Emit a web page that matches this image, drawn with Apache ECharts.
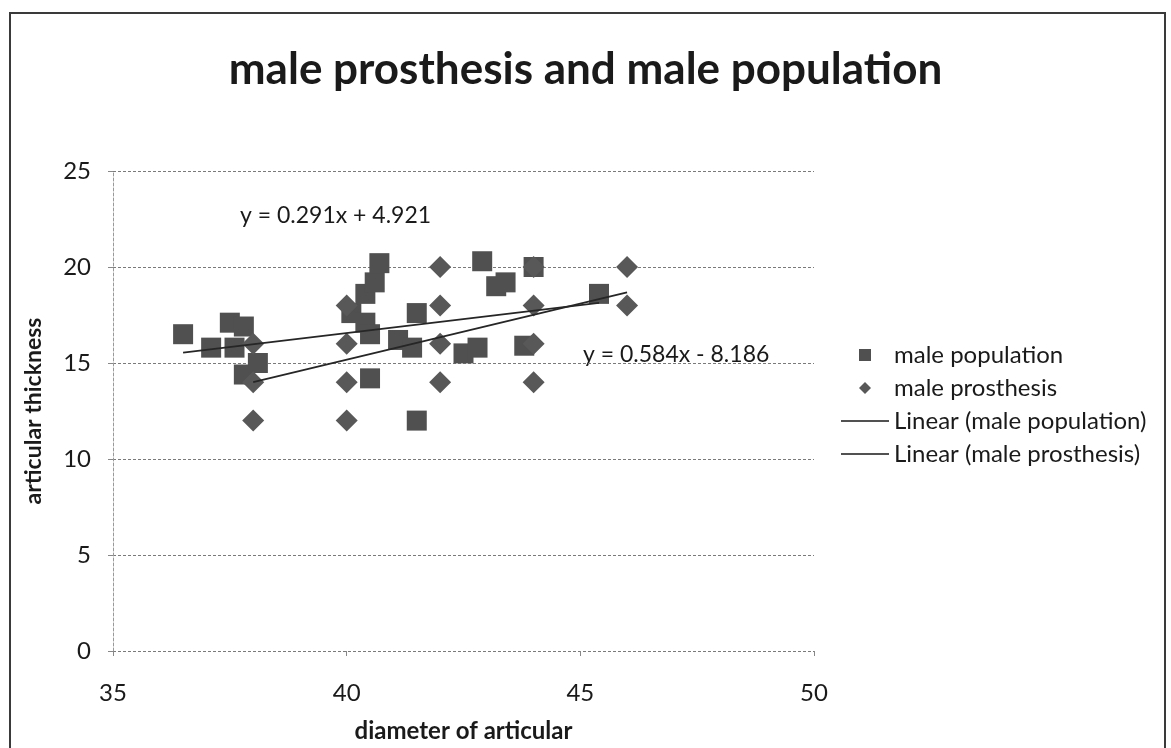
<!DOCTYPE html>
<html>
<head>
<meta charset="utf-8">
<script src="https://cdn.jsdelivr.net/npm/echarts@6/dist/echarts.min.js"></script>
<style>
html,body{margin:0;padding:0;background:#fff;}
#chart{width:1171px;height:748px;}
</style>
</head>
<body>
<div id="chart"></div>
<script>
// ---- data ----
const titleText = 'male prosthesis and male population';
const xAxisName = 'diameter of articular';
const yAxisName = 'articular thickness';
const seriesNames = ['male population', 'male prosthesis', 'Linear (male population)', 'Linear (male prosthesis)'];

const populationX = [36.5, 37.1, 37.5, 37.6, 37.8, 37.8, 38.1, 40.1, 40.4, 40.6, 40.7, 40.4, 40.5, 40.5, 41.1, 41.5, 41.4, 41.5, 42.5, 42.8, 42.9, 43.2, 43.4, 43.8, 44.0, 45.4];
const populationY = [16.5, 15.8, 17.1, 15.8, 16.9, 14.4, 15.0, 17.6, 18.6, 19.2, 20.2, 17.1, 16.5, 14.2, 16.2, 17.6, 15.8, 12.0, 15.5, 15.8, 20.3, 19.0, 19.2, 15.9, 20.0, 18.6];

const prosthesisX = [38, 38, 38, 40, 40, 40, 40, 42, 42, 42, 42, 44, 44, 44, 44, 46, 46];
const prosthesisY = [16, 14, 12, 18, 16, 14, 12, 20, 18, 16, 14, 20, 18, 16, 14, 20, 18];

// trendline coefficients as printed on the chart
const trendPopulation = { slope: 0.291, intercept: 4.921, label: 'y = 0.291x + 4.921' };
const trendProsthesis = { slope: 0.584, intercept: -8.186, label: 'y = 0.584x - 8.186' };

const xTicks = [35, 40, 45, 50];
const yTicks = [0, 5, 10, 15, 20, 25];

// ---- build ----
const zip = (xs, ys) => xs.map((x, i) => [x, ys[i]]);
const trendEnds = (xs, t) => {
  const lo = Math.min(...xs), hi = Math.max(...xs);
  return [[lo, t.slope * lo + t.intercept], [hi, t.slope * hi + t.intercept]];
};

const FONT = 'Lato, "Open Sans", sans-serif';
const LINE_ICON = 'path://M0,0L48,0L48,2L0,2Z';
const TREND_COLOR = '#262626';

function trendSeries(name, ends) {
  return {
    name: name, type: 'scatter', symbol: 'none', symbolSize: 0,
    itemStyle: { color: TREND_COLOR },
    data: ends, z: 4,
    markLine: {
      silent: true, animation: false,
      symbol: ['none', 'none'],
      label: { show: false },
      lineStyle: { color: TREND_COLOR, width: 1.8, type: 'solid' },
      emphasis: { disabled: true },
      data: [[{ coord: ends[0] }, { coord: ends[1] }]]
    }
  };
}

const chart = echarts.init(document.getElementById('chart'), null, { renderer: 'canvas' });

chart.setOption({
  animation: false,
  backgroundColor: '#ffffff',
  textStyle: { fontFamily: FONT, color: '#1a1a1a' },
  title: {
    text: titleText,
    left: 'center',
    top: 43,
    textStyle: { fontFamily: FONT, fontSize: 44, fontWeight: 'bold', color: '#1a1a1a' }
  },
  grid: { left: 113, top: 171, width: 701, height: 496, containLabel: false },
  xAxis: {
    type: 'value',
    min: xTicks[0], max: xTicks[xTicks.length - 1], interval: 5,
    name: xAxisName,
    nameLocation: 'middle',
    nameGap: 68,
    nameTextStyle: { fontFamily: FONT, fontSize: 24, fontWeight: 'bold', color: '#1a1a1a' },
    axisLine: { show: false },
    axisTick: { show: true, length: 5, lineStyle: { color: '#888' } },
    axisLabel: { fontSize: 24, color: '#1a1a1a', margin: 30, fontFamily: FONT },
    splitLine: { show: false }
  },
  yAxis: {
    type: 'value',
    min: yTicks[0], max: yTicks[yTicks.length - 1], interval: 5,
    name: yAxisName,
    nameLocation: 'middle',
    nameGap: 68,
    nameTextStyle: { fontFamily: FONT, fontSize: 23, fontWeight: 'bold', color: '#1a1a1a' },
    axisLine: { show: true, lineStyle: { color: '#999', type: [3, 2] } },
    axisTick: { show: true, length: 5, lineStyle: { color: '#888' } },
    axisLabel: { fontSize: 24, color: '#1a1a1a', margin: 22, fontFamily: FONT },
    splitLine: { show: true, lineStyle: { color: '#7a7a7a', type: [3, 2], width: 1 } }
  },
  legend: {
    orient: 'vertical',
    left: 836,
    top: 338,
    itemWidth: 48,
    itemHeight: 12,
    itemGap: 9,
    textStyle: { fontFamily: FONT, fontSize: 24, color: '#1a1a1a' },
    data: [
      { name: seriesNames[0], icon: 'path://M0,0L10,0L10,10L0,10Z' },
      { name: seriesNames[1], icon: 'path://M5,0L10,5L5,10L0,5Z' },
      { name: seriesNames[2], icon: LINE_ICON },
      { name: seriesNames[3], icon: LINE_ICON }
    ]
  },
  graphic: [
    {
      type: 'rect', silent: true, z: -1,
      shape: { x: 10, y: 13, width: 1155, height: 780 },
      style: { fill: 'none', stroke: '#3a3a3a', lineWidth: 2 }
    },
    {
      type: 'text', left: 240, top: 204,
      style: { text: trendPopulation.label, font: '23px ' + FONT, fill: '#1a1a1a' }
    },
    {
      type: 'text', left: 583, top: 343,
      style: { text: trendProsthesis.label, font: '23px ' + FONT, fill: '#1a1a1a' }
    }
  ],
  series: [
    {
      name: seriesNames[0], type: 'scatter', symbol: 'rect', symbolSize: 20,
      itemStyle: { color: '#505050', opacity: 1 },
      data: zip(populationX, populationY), z: 2
    },
    {
      name: seriesNames[1], type: 'scatter', symbol: 'diamond', symbolSize: 22,
      itemStyle: { color: '#585858', opacity: 1 },
      data: zip(prosthesisX, prosthesisY), z: 3
    },
    trendSeries(seriesNames[2], trendEnds(populationX, trendPopulation)),
    trendSeries(seriesNames[3], trendEnds(prosthesisX, trendProsthesis))
  ]
});
</script>
</body>
</html>
